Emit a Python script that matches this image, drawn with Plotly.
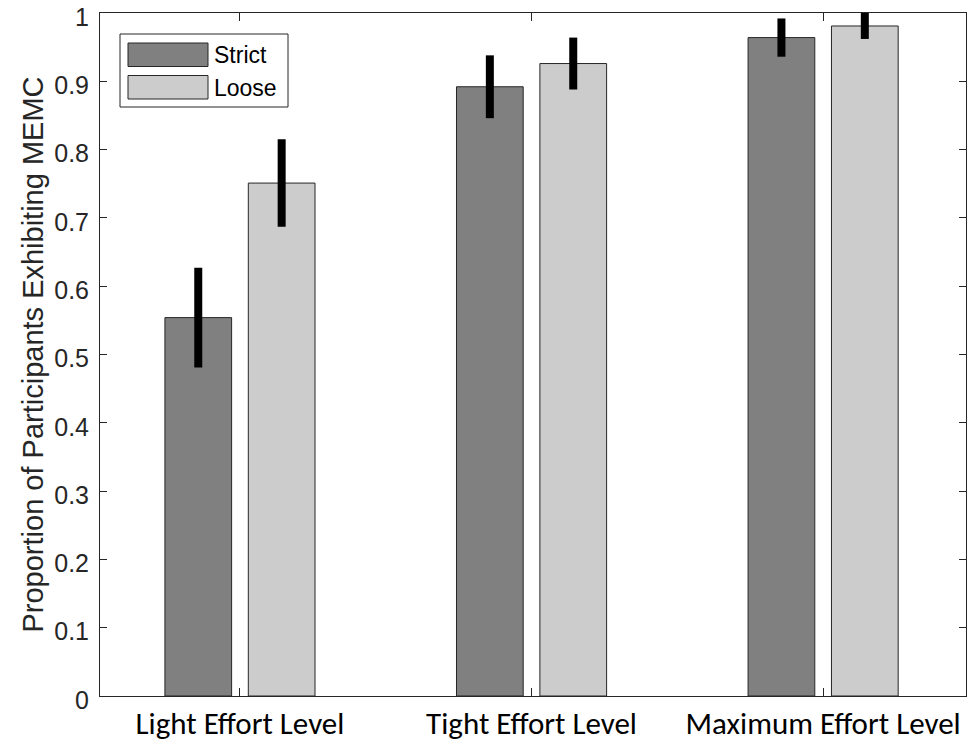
import plotly.graph_objects as go

categories = ["Light Effort Level", "Tight Effort Level", "Maximum Effort Level"]
strict_vals = [0.554, 0.892, 0.964]
strict_err = [0.073, 0.046, 0.028]
loose_vals = [0.751, 0.926, 0.981]
loose_err = [0.064, 0.038, 0.019]
series_names = ["Strict", "Loose"]
y_ticks = [0, 0.1, 0.2, 0.3, 0.4, 0.5, 0.6, 0.7, 0.8, 0.9, 1]

strict_color = "#808080"
loose_color = "#cccccc"
edge = "#262626"
axis_color = "#262626"

fig = go.Figure()
xs = list(range(len(categories)))
for name, vals, errs, col in [(series_names[0], strict_vals, strict_err, strict_color),
                              (series_names[1], loose_vals, loose_err, loose_color)]:
    fig.add_trace(go.Bar(
        x=xs, y=vals, name=name,
        marker=dict(color=col, line=dict(color=edge, width=1)),
        error_y=dict(type="data", array=errs, visible=True, color="black",
                     thickness=8, width=0),
        showlegend=False,
    ))

fig.update_layout(
    width=978, height=744,
    margin=dict(l=100, r=12, t=13, b=48, autoexpand=False),
    paper_bgcolor="white", plot_bgcolor="white",
    barmode="group", bargap=0.428, bargroupgap=0.2,
    font=dict(family="Liberation Sans, Arial", size=26, color=axis_color),
    xaxis=dict(
        range=[-0.48, 2.49], tickvals=xs, ticktext=categories,
        ticks="inside", ticklen=8, tickcolor=axis_color, tickwidth=1,
        showline=True, linecolor=axis_color, linewidth=1, mirror="ticks",
        showgrid=False, zeroline=False, automargin=False,
        ticklabeloverflow="allow",
        tickfont=dict(family="Carlito, Lato, Open Sans", size=31, color="#000000"),
    ),
    yaxis=dict(
        range=[0, 1], tickvals=y_ticks, ticktext=[f"{v:g}" for v in y_ticks],
        ticks="inside", ticklen=7, tickcolor=axis_color, tickwidth=1,
        showline=True, linecolor=axis_color, linewidth=1, mirror="ticks",
        showgrid=False, zeroline=False, automargin=False,
        ticklabeloverflow="allow", ticklabelstandoff=5, ticklabelshift=4,
        tickfont=dict(size=25, color=axis_color),
        title=dict(text="Proportion of Participants Exhibiting MEMC",
                   font=dict(size=29, color=axis_color), standoff=2),
    ),
)

# manual legend (wide swatches, MATLAB style)
W, H = 866.0, 683.0
def px(x):
    return (x - 100) / W
def py(y):
    return 1 - (y - 13) / H

shapes = [
    dict(type="rect", xref="paper", yref="paper", x0=px(120), x1=px(288), y0=py(107), y1=py(34),
         line=dict(color=axis_color, width=1), fillcolor="white", layer="above"),
    dict(type="rect", xref="paper", yref="paper", x0=px(128), x1=px(208), y0=py(66.5), y1=py(43),
         line=dict(color=edge, width=1), fillcolor=strict_color, layer="above"),
    dict(type="rect", xref="paper", yref="paper", x0=px(128), x1=px(208), y0=py(99), y1=py(75.5),
         line=dict(color=edge, width=1), fillcolor=loose_color, layer="above"),
]
annotations = [
    dict(xref="paper", yref="paper", x=px(212), y=py(55), text=series_names[0], showarrow=False,
         xanchor="left", yanchor="middle", font=dict(size=23, color="#000000")),
    dict(xref="paper", yref="paper", x=px(212), y=py(88), text=series_names[1], showarrow=False,
         xanchor="left", yanchor="middle", font=dict(size=23, color="#000000")),
]
fig.update_layout(shapes=shapes, annotations=annotations)

fig.write_html("out.html", config={"displayModeBar": False},
               post_script="document.body.style.margin='0';document.body.style.overflow='hidden';")
